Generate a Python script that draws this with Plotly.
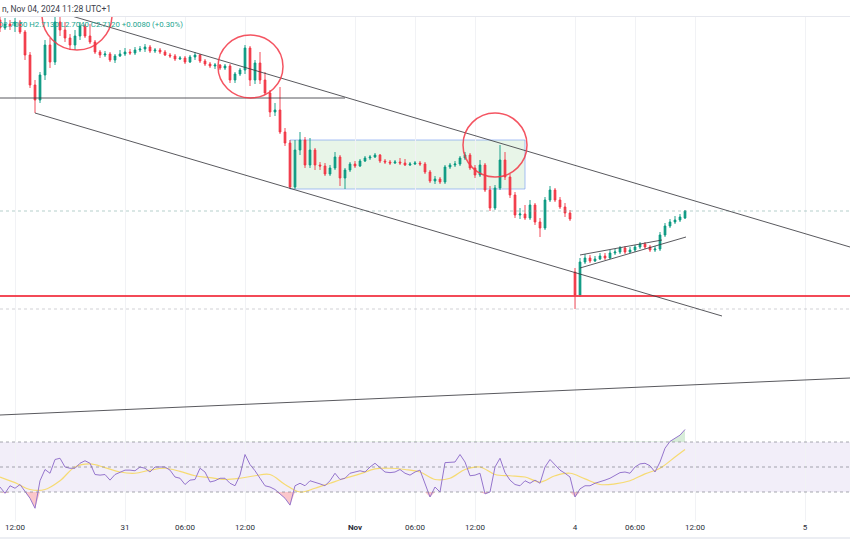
import plotly.graph_objects as go
import pandas as pd

# ---- bar times (30-min bars, trading sessions) ----
sessions = [("2024-10-30 10:30", 23), ("2024-10-30 23:00", 46),
            ("2024-10-31 23:00", 46), ("2024-11-04 00:00", 23)]
times = []
for start, n in sessions:
    times += list(pd.date_range(start, periods=n, freq="30min"))

# ---- OHLC ----
opens = [2.903,2.895,2.899,2.897,2.901,2.891,2.868,2.838,2.823,2.848,2.878,2.861,2.901,2.893,2.885,2.878,2.887,2.897,2.887,2.881,2.871,2.868,2.869,
         2.863,2.867,2.869,2.871,2.870,2.873,2.874,2.876,2.872,2.873,2.871,2.868,2.867,2.864,2.865,2.861,2.866,2.868,2.862,2.859,2.857,2.858,2.855,2.857,
         2.843,2.849,2.853,2.875,2.843,2.860,2.843,2.830,2.811,2.813,2.791,2.780,2.736,2.773,2.783,2.758,2.773,2.758,2.757,2.749,2.755,2.766,
         2.745,2.753,2.759,2.757,2.762,2.765,2.766,2.768,2.762,2.761,2.760,2.761,2.760,2.758,2.759,2.760,2.759,2.751,2.742,2.744,2.741,2.756,
         2.758,2.759,2.765,2.768,2.755,2.748,2.758,2.733,2.715,2.735,2.763,2.746,2.728,2.708,2.709,2.705,2.718,2.701,2.695,2.723,2.733,2.723,2.716,2.710,
         2.651,2.628,2.661,2.665,2.662,2.664,2.667,2.665,2.670,2.671,2.675,2.671,2.673,2.676,2.679,2.676,2.673,2.674,2.688,2.697,2.701,2.703,2.705]
highs = [2.909,2.905,2.903,2.905,2.903,2.893,2.871,2.843,2.851,2.883,2.885,2.909,2.909,2.901,2.889,2.893,2.901,2.899,2.899,2.883,2.873,2.872,2.871,
         2.869,2.873,2.875,2.874,2.876,2.877,2.879,2.878,2.875,2.875,2.873,2.870,2.869,2.867,2.867,2.868,2.871,2.869,2.864,2.861,2.860,2.859,2.859,2.859,
         2.851,2.855,2.878,2.877,2.863,2.871,2.851,2.833,2.820,2.836,2.795,2.783,2.783,2.791,2.786,2.785,2.775,2.761,2.760,2.758,2.771,2.768,
         2.755,2.761,2.762,2.764,2.767,2.768,2.770,2.769,2.764,2.763,2.763,2.765,2.764,2.761,2.762,2.762,2.761,2.753,2.747,2.746,2.758,2.760,
         2.762,2.767,2.771,2.770,2.758,2.763,2.760,2.737,2.738,2.778,2.771,2.749,2.731,2.715,2.718,2.723,2.720,2.705,2.726,2.737,2.735,2.726,2.720,2.713,
         2.655,2.665,2.669,2.668,2.667,2.670,2.670,2.673,2.674,2.677,2.677,2.676,2.678,2.681,2.681,2.678,2.677,2.691,2.700,2.704,2.707,2.709,2.713]
lows = [2.891,2.893,2.893,2.891,2.889,2.863,2.835,2.810,2.820,2.843,2.855,2.858,2.887,2.881,2.873,2.873,2.883,2.885,2.879,2.869,2.865,2.866,2.861,
        2.860,2.866,2.867,2.868,2.868,2.871,2.871,2.870,2.870,2.869,2.867,2.865,2.862,2.863,2.859,2.860,2.863,2.860,2.857,2.855,2.854,2.853,2.853,2.840,
        2.840,2.847,2.849,2.837,2.839,2.839,2.828,2.806,2.807,2.789,2.777,2.734,2.734,2.768,2.755,2.755,2.753,2.753,2.747,2.747,2.753,2.737,
        2.734,2.751,2.755,2.756,2.761,2.763,2.765,2.760,2.759,2.758,2.759,2.758,2.757,2.757,2.758,2.757,2.749,2.740,2.739,2.739,2.739,2.754,
        2.756,2.757,2.763,2.753,2.745,2.746,2.731,2.712,2.713,2.733,2.743,2.725,2.705,2.704,2.703,2.703,2.698,2.686,2.693,2.721,2.721,2.714,2.706,2.702,
        2.614,2.626,2.659,2.660,2.661,2.663,2.663,2.664,2.668,2.669,2.669,2.670,2.671,2.674,2.674,2.671,2.671,2.672,2.686,2.695,2.699,2.701,2.704]
closes = [2.895,2.899,2.897,2.901,2.891,2.868,2.838,2.823,2.848,2.878,2.861,2.901,2.893,2.885,2.878,2.887,2.897,2.887,2.881,2.871,2.868,2.869,2.863,
          2.867,2.869,2.871,2.870,2.873,2.874,2.876,2.872,2.873,2.871,2.868,2.867,2.864,2.865,2.861,2.866,2.868,2.862,2.859,2.857,2.858,2.855,2.857,2.843,
          2.849,2.853,2.875,2.843,2.860,2.843,2.830,2.811,2.813,2.791,2.780,2.736,2.773,2.783,2.758,2.773,2.758,2.757,2.749,2.755,2.766,2.745,
          2.753,2.759,2.757,2.762,2.765,2.766,2.768,2.762,2.761,2.760,2.761,2.760,2.758,2.759,2.760,2.759,2.751,2.742,2.744,2.741,2.756,2.758,
          2.759,2.765,2.768,2.755,2.748,2.758,2.733,2.715,2.735,2.763,2.746,2.728,2.708,2.709,2.705,2.718,2.701,2.695,2.723,2.733,2.723,2.716,2.710,2.704,
          2.628,2.661,2.665,2.662,2.664,2.667,2.665,2.670,2.671,2.675,2.671,2.673,2.676,2.679,2.676,2.673,2.674,2.688,2.697,2.701,2.703,2.706,2.712]

# ---- RSI and its moving average ----
rsi = [34,29,35,33,36,30,25,17,39,48,45,56,57,50,49,49,53,55,53,44,43.5,44,39.5,
       44,46,47.5,47.5,47,50,49,46,50,50,50,47.5,42,41,36,39.5,40,49,46,38,39,41,41,37,35,43.5,60,52,47,41,35,34,32,28.5,25,19.5,35,37,35,39,38,36.5,35,39,45,40,
       41,45,46,47,46,50,53,49.5,46,45.5,46,48,45,43.5,46,47.5,37,26,34,30,53.5,54,54,60,54,43,43.5,45,28.5,30,50,57,45.5,39.5,36,35,39,37,39.5,37,50,56,51.5,47.5,45,42,
       26,32.5,35,35,37,38,39.5,41,43.5,45.5,46,45,50,52.5,53,51,46,54,65,70.5,73,75.5,80]
rsi_ma = [42,37.5,32,32,39,50,52.5,49.5,46,45,47.5,49,46.5,43,41.5,40,41,43,44,36,30,33,37,41,
          44.5,48.5,49,48,46,40,41,48,50,44,43,42,38,43,45,40.5,36,36.5,39,44.5,49,58,64]
ma_times = times[::3] + [times[-1]]

# ---- axis ticks ----
tick_vals = ["2024-10-30 12:00", "2024-10-31 00:00", "2024-10-31 06:00", "2024-10-31 12:00",
             "2024-11-01 00:00", "2024-11-01 06:00", "2024-11-01 12:00", "2024-11-04 00:00",
             "2024-11-04 06:00", "2024-11-04 12:00", "2024-11-05 00:00"]
tick_text = ["12:00", "31", "06:00", "12:00", "<b>Nov</b>", "06:00", "12:00", "4", "06:00", "12:00", "5"]

# ---- drawings (time, price) ----
lines_dark = [
    ("2024-10-30 16:30", 2.9105, "2024-11-05 04:30", 2.676),   # upper channel
    ("2024-10-30 14:00", 2.810, "2024-11-04 14:42", 2.607),    # lower channel
    ("2024-10-30 10:30", 2.825, "2024-10-31 22:00", 2.825),    # horizontal level
    ("2024-10-30 10:30", 2.508, "2024-11-05 04:30", 2.545),    # long trendline
    ("2024-11-04 00:30", 2.668, "2024-11-04 08:42", 2.683),    # wedge top
    ("2024-11-04 00:30", 2.655, "2024-11-04 11:06", 2.686),    # wedge bottom
]
circles = [
    ("2024-10-30 14:42", "2024-10-30 21:42", 2.873, 2.943),
    ("2024-10-31 09:18", "2024-10-31 15:48", 2.825, 2.888),
    ("2024-11-01 10:48", "2024-11-01 17:12", 2.746, 2.810),
]
box = ("2024-10-31 16:30", "2024-11-01 17:00", 2.734, 2.783)
red_level = 2.627
last_price = 2.712
low_level = 2.614

W, H = 850, 560
def py(p):
    return 1 - p / H

fig = go.Figure()
fig.add_trace(go.Candlestick(
    x=times, open=opens, high=highs, low=lows, close=closes,
    increasing=dict(line=dict(color="#089981", width=0.9), fillcolor="#089981"),
    decreasing=dict(line=dict(color="#F23645", width=0.9), fillcolor="#F23645"),
    whiskerwidth=0, showlegend=False, hoverinfo="skip", xaxis="x", yaxis="y"))

# RSI fills
lo = [min(v, 30) for v in rsi]
hi = [max(v, 70) for v in rsi]
fig.add_trace(go.Scatter(x=times, y=[30] * len(rsi), mode="lines", line=dict(width=0),
                         showlegend=False, hoverinfo="skip", xaxis="x2", yaxis="y2"))
fig.add_trace(go.Scatter(x=times, y=lo, mode="lines", line=dict(width=0), fill="tonexty",
                         fillcolor="rgba(242,54,69,0.28)", showlegend=False, hoverinfo="skip",
                         xaxis="x2", yaxis="y2"))
fig.add_trace(go.Scatter(x=times, y=[70] * len(rsi), mode="lines", line=dict(width=0),
                         showlegend=False, hoverinfo="skip", xaxis="x2", yaxis="y2"))
fig.add_trace(go.Scatter(x=times, y=hi, mode="lines", line=dict(width=0), fill="tonexty",
                         fillcolor="rgba(76,175,80,0.22)", showlegend=False, hoverinfo="skip",
                         xaxis="x2", yaxis="y2"))
fig.add_trace(go.Scatter(x=ma_times, y=rsi_ma, mode="lines", line=dict(color="rgba(247,215,90,0.85)", width=1.2, shape="spline"),
                         showlegend=False, hoverinfo="skip", xaxis="x2", yaxis="y2"))
fig.add_trace(go.Scatter(x=times, y=rsi, mode="lines", line=dict(color="#9575cd", width=1),
                         showlegend=False, hoverinfo="skip", xaxis="x2", yaxis="y2"))

shapes = []
# RSI band & levels
shapes.append(dict(type="rect", xref="paper", yref="y2", x0=0, x1=1, y0=30, y1=70,
                   fillcolor="rgba(126,87,194,0.10)", line=dict(width=0), layer="below"))
for lv in (30, 50, 70):
    shapes.append(dict(type="line", xref="paper", yref="y2", x0=0, x1=1, y0=lv, y1=lv,
                       line=dict(color="rgba(120,123,134,0.65)", width=1, dash="dot")))
# box
shapes.append(dict(type="rect", xref="x", yref="y", x0=box[0], x1=box[1], y0=box[2], y1=box[3],
                   fillcolor="rgba(76,175,80,0.13)", line=dict(color="rgba(110,150,240,0.6)", width=1), layer="below"))
# horizontal levels
shapes.append(dict(type="line", xref="paper", yref="y", x0=0, x1=1, y0=last_price, y1=last_price,
                   line=dict(color="rgba(120,170,160,0.55)", width=1, dash="dot")))
shapes.append(dict(type="line", xref="paper", yref="y", x0=0, x1=1, y0=low_level, y1=low_level,
                   line=dict(color="rgba(150,150,160,0.45)", width=1, dash="dot")))
shapes.append(dict(type="line", xref="paper", yref="y", x0=0, x1=1, y0=red_level, y1=red_level,
                   line=dict(color="rgba(242,54,69,0.9)", width=1.8)))
for x0, y0, x1, y1 in lines_dark:
    shapes.append(dict(type="line", xref="x", yref="y", x0=x0, y0=y0, x1=x1, y1=y1,
                       line=dict(color="rgba(60,60,66,0.85)", width=1)))
for x0, x1, y0, y1 in circles:
    shapes.append(dict(type="circle", xref="x", yref="y", x0=x0, x1=x1, y0=y0, y1=y1,
                       line=dict(color="rgba(242,54,69,0.85)", width=1.5)))
# header separator and bottom border
shapes.append(dict(type="line", xref="paper", yref="paper", x0=0, x1=1, y0=py(16.5), y1=py(16.5),
                   line=dict(color="#e6e8ee", width=1)))
shapes.append(dict(type="line", xref="paper", yref="paper", x0=0, x1=1, y0=py(538), y1=py(538),
                   line=dict(color="#eceef3", width=2)))

breaks = [dict(values=["2024-10-30 22:00", "2024-10-31 22:00", "2024-11-04 23:00"], dvalue=3600000),
          dict(values=["2024-11-01 22:00"], dvalue=50 * 3600000)]
xrange = ["2024-10-30 10:30", "2024-11-05 04:30"]
font_family = "Roboto, Liberation Sans, sans-serif"

fig.update_layout(
    width=W, height=H, margin=dict(l=0, r=0, t=0, b=0),
    paper_bgcolor="white", plot_bgcolor="white", showlegend=False,
    font=dict(family=font_family), boxgap=0.5,
    xaxis=dict(domain=[0, 1], anchor="y", range=xrange, rangebreaks=breaks,
               rangeslider=dict(visible=False), showticklabels=False,
               tickvals=tick_vals, showgrid=True, gridcolor="#f1f2f5", gridwidth=1,
               zeroline=False, showline=False, ticks=""),
    xaxis2=dict(domain=[0, 1], anchor="y2", matches="x", range=xrange, rangebreaks=breaks,
                tickvals=tick_vals, ticktext=tick_text, showgrid=True, gridcolor="#f1f2f5",
                gridwidth=1, zeroline=False, showline=False, ticks="",
                tickfont=dict(size=8, color="#2a2e39", family=font_family)),
    yaxis=dict(domain=[py(421), py(17)], anchor="x", range=[2.502, 2.906],
               showticklabels=False, showgrid=False, zeroline=False),
    yaxis2=dict(domain=[py(521), py(421)], anchor="x2", range=[6.8, 86.8],
                showticklabels=False, showgrid=False, zeroline=False),
    shapes=shapes,
    annotations=[
        dict(xref="paper", yref="paper", x=0, y=py(9), xanchor="left", yanchor="middle",
             text="n, Nov 04, 2024 11:28 UTC+1", showarrow=False,
             font=dict(size=8.5, color="#3a3e4a", family=font_family)),
        dict(xref="paper", yref="paper", x=-4 / W, y=py(25), xanchor="left", yanchor="middle",
             text="O2.7050 H2.7130 L2.7040 C2.7120 +0.0080 (+0.30%)", showarrow=False,
             font=dict(size=7.8, color="#22a58f", family=font_family)),
    ],
)

fig.write_html("out.html", config={"displayModeBar": False},
               post_script="document.body.style.margin='0';document.body.style.padding='0';")
